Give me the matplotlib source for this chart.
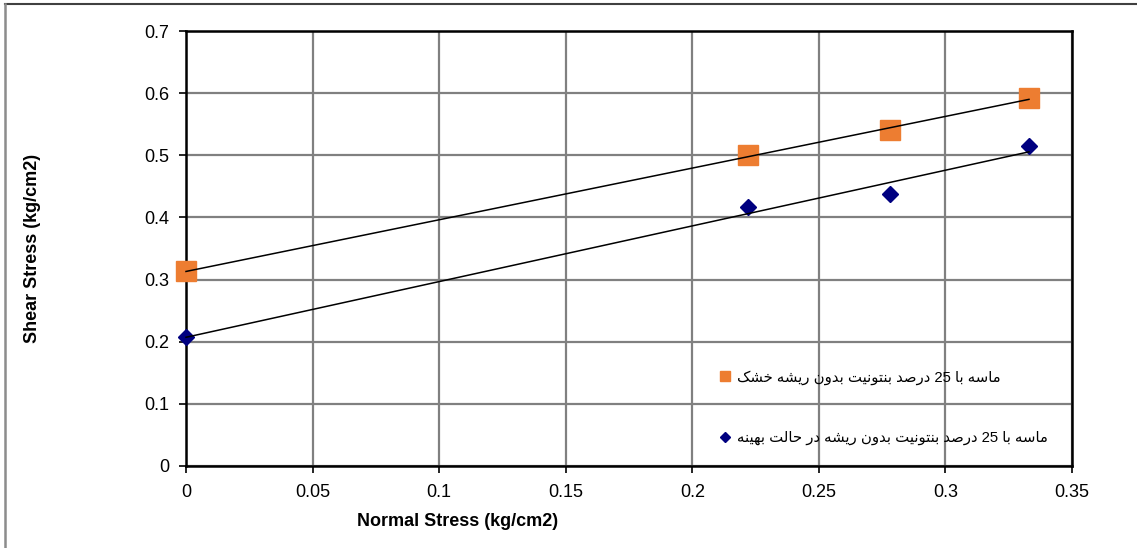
import re
import numpy as np
import matplotlib
matplotlib.use("Agg")
import matplotlib.pyplot as plt
from matplotlib.lines import Line2D

# ---- data -------------------------------------------------------------
normal_stress = [0.0, 0.222, 0.278, 0.333]
shear_dry = [0.313, 0.500, 0.540, 0.592]
shear_optimum = [0.207, 0.416, 0.437, 0.515]

label_dry = "ماسه با 25 درصد بنتونیت بدون ریشه خشک"
label_optimum = "ماسه با 25 درصد بنتونیت بدون ریشه در حالت بهینه"

x_ticks = [0, 0.05, 0.1, 0.15, 0.2, 0.25, 0.3, 0.35]
x_tick_labels = ["0", "0.05", "0.1", "0.15", "0.2", "0.25", "0.3", "0.35"]
y_ticks = [0, 0.1, 0.2, 0.3, 0.4, 0.5, 0.6, 0.7]
y_tick_labels = ["0", "0.1", "0.2", "0.3", "0.4", "0.5", "0.6", "0.7"]

x_label = "Normal Stress (kg/cm2)"
y_label = "Shear Stress (kg/cm2)"

# ---- minimal Arabic/Persian shaping (contextual forms + RTL order) ----
# forms: isolated, final, initial, medial
FORMS = {
    "ا": ("\uFE8D", "\uFE8E", None, None),
    "د": ("\uFEA9", "\uFEAA", None, None),
    "ر": ("\uFEAD", "\uFEAE", None, None),
    "و": ("\uFEED", "\uFEEE", None, None),
    "ب": ("\uFE8F", "\uFE90", "\uFE91", "\uFE92"),
    "ت": ("\uFE95", "\uFE96", "\uFE97", "\uFE98"),
    "ح": ("\uFEA1", "\uFEA2", "\uFEA3", "\uFEA4"),
    "خ": ("\uFEA5", "\uFEA6", "\uFEA7", "\uFEA8"),
    "س": ("\uFEB1", "\uFEB2", "\uFEB3", "\uFEB4"),
    "ش": ("\uFEB5", "\uFEB6", "\uFEB7", "\uFEB8"),
    "ص": ("\uFEB9", "\uFEBA", "\uFEBB", "\uFEBC"),
    "ل": ("\uFEDD", "\uFEDE", "\uFEDF", "\uFEE0"),
    "م": ("\uFEE1", "\uFEE2", "\uFEE3", "\uFEE4"),
    "ن": ("\uFEE5", "\uFEE6", "\uFEE7", "\uFEE8"),
    "ه": ("\uFEE9", "\uFEEA", "\uFEEB", "\uFEEC"),
    "ی": ("\uFBFC", "\uFBFD", "\uFBFE", "\uFBFF"),
    "ک": ("\uFB8E", "\uFB8F", "\uFB90", "\uFB91"),
}


def dual(c):
    return c in FORMS and FORMS[c][2] is not None


def shape_rtl(text):
    out = []
    for i, c in enumerate(text):
        if c not in FORMS:
            out.append(c)
            continue
        prev_c = text[i - 1] if i > 0 else ""
        next_c = text[i + 1] if i + 1 < len(text) else ""
        join_prev = dual(prev_c)
        join_next = dual(c) and next_c in FORMS
        iso, fin, ini, med = FORMS[c]
        if join_prev and join_next:
            out.append(med)
        elif join_prev:
            out.append(fin)
        elif join_next:
            out.append(ini)
        else:
            out.append(iso)
    visual = "".join(out)[::-1]
    return re.sub(r"\d+", lambda m: m.group()[::-1], visual)


# ---- figure ----------------------------------------------------------
W, H = 1137, 548
fig = plt.figure(figsize=(W / 100, H / 100), dpi=100)
fig.patch.set_facecolor("white")

font = ["Liberation Sans", "DejaVu Sans"]
plt.rcParams["font.family"] = font

ax = fig.add_axes([186 / W, 1 - 466 / H, (1072 - 186) / W, (466 - 31) / H])

orange = "#ED7D31"
navy = "#000080"

x = np.array(normal_stress)
for ys, color, marker, ms in [
    (shear_dry, orange, "s", 14),
    (shear_optimum, navy, "D", 8),
]:
    ax.plot(x, ys, linestyle="none", marker=marker, markersize=ms,
            markerfacecolor=color, markeredgecolor=color, zorder=6,
            clip_on=False)
    slope, intercept = np.polyfit(x, ys, 1)
    xs = np.array([x.min(), x.max()])
    ax.plot(xs, slope * xs + intercept, color="black", linewidth=1.1,
            zorder=7, clip_on=False)

ax.set_xlim(0, 0.35)
ax.set_ylim(0, 0.7)
ax.set_xticks(x_ticks)
ax.set_xticklabels(x_tick_labels)
ax.set_yticks(y_ticks)
ax.set_yticklabels(y_tick_labels)
ax.tick_params(axis="both", direction="out", length=5, width=1.2,
               labelsize=13, color="black")
ax.tick_params(axis="x", pad=8)
ax.tick_params(axis="y", pad=7)
ax.grid(True, color="#808080", linewidth=1.6, zorder=0)
ax.set_axisbelow(True)
for side in ["left", "bottom", "top", "right"]:
    ax.spines[side].set_color("black")
    ax.spines[side].set_linewidth(1.8)
    ax.spines[side].set_zorder(5)

fig.text(458 / W, 1 - 522 / H, x_label, ha="center", va="center",
         fontsize=13, fontweight="bold")
fig.text(33 / W, 1 - 248 / H, y_label, ha="center", va="center",
         rotation=90, fontsize=13, fontweight="bold")

handles = [
    Line2D([], [], linestyle="none", marker="s", markersize=6.5,
           markerfacecolor=orange, markeredgecolor=orange),
    Line2D([], [], linestyle="none", marker="D", markersize=5,
           markerfacecolor=navy, markeredgecolor=navy),
]
fig.legend(handles, [shape_rtl(label_dry), shape_rtl(label_optimum)],
           loc="upper left", bbox_to_anchor=(719 / W, 1 - 370 / H),
           frameon=False, handlelength=0.8, handletextpad=0.4,
           borderpad=0, borderaxespad=0, labelspacing=3.1,
           prop={"family": font, "size": 10.7})

# outer chart border
fig.add_artist(Line2D([5 / W, 1.0], [1 - 4 / H, 1 - 4 / H],
                      transform=fig.transFigure, color="#404040", linewidth=1.5))
fig.add_artist(Line2D([5 / W, 5 / W], [1 - 4 / H, 0.0],
                      transform=fig.transFigure, color="#8C8C8C", linewidth=1.8))

fig.savefig("out.png", dpi=100)
